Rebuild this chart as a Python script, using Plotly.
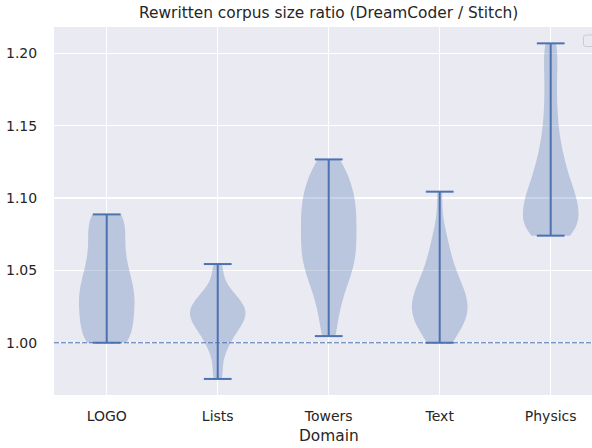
import plotly.graph_objects as go

# ---------------- data ----------------
domains = ["LOGO", "Lists", "Towers", "Text", "Physics"]

logo_vals = [1.000, 1.000, 1.000, 1.004, 1.008, 1.012, 1.0155, 1.019, 1.022, 1.025,
             1.028, 1.031, 1.034, 1.037, 1.040, 1.0435, 1.047, 1.051, 1.055, 1.060,
             1.065, 1.070, 1.075, 1.080, 1.085, 1.0887, 1.0887]
lists_vals = [0.975, 0.9814, 0.9894, 0.9946, 0.9982, 1.0013, 1.0038, 1.0060, 1.0079, 1.0098,
              1.0113, 1.0128, 1.0142, 1.0156, 1.0168, 1.0180, 1.0192, 1.0204, 1.0216, 1.0228,
              1.0239, 1.0251, 1.0265, 1.0279, 1.0293, 1.0309, 1.0328, 1.0346, 1.0375, 1.0412,
              1.0482, 1.0544]
towers_vals = [1.0046, 1.018, 1.028, 1.036, 1.042, 1.047, 1.052, 1.056, 1.060, 1.064,
               1.068, 1.072, 1.076, 1.080, 1.084, 1.088, 1.092, 1.096, 1.100, 1.104,
               1.109, 1.114, 1.119, 1.1267]
text_vals = [1.000, 1.003, 1.007, 1.010, 1.013, 1.015, 1.017, 1.019, 1.021, 1.023,
             1.025, 1.027, 1.029, 1.031, 1.033, 1.035, 1.038, 1.041, 1.044, 1.048,
             1.052, 1.057, 1.063, 1.070, 1.078, 1.1044]
physics_vals = [1.074, 1.075, 1.077, 1.080, 1.083, 1.086, 1.089, 1.092, 1.095, 1.098,
                1.101, 1.104, 1.108, 1.112, 1.117, 1.122, 1.128, 1.135, 1.144, 1.155,
                1.168, 1.182, 1.195, 1.2069]
series = [logo_vals, lists_vals, towers_vals, text_vals, physics_vals]
bandwidths = [0.011, 0.006, 0.010, 0.012, 0.010]

y_ticks = [1.00, 1.05, 1.10, 1.15, 1.20]
baseline = 1.0

# ---------------- style ----------------
C0 = "#4C72B0"
FILL = "rgba(76,114,176,0.3)"
BG = "#EAEAF2"
TXT = "#262626"
FONT = "DejaVu Sans"
W, H = 592, 448
L, R, T, B = 54, 0, 27, 53
violin_width = 0.5

fig = go.Figure()
positions = list(range(1, len(domains) + 1))
for pos, vals, bw in zip(positions, series, bandwidths):
    fig.add_trace(go.Violin(
        y=vals, x0=pos, orientation="v", width=violin_width,
        spanmode="hard", bandwidth=bw, scalemode="width",
        fillcolor=FILL, line=dict(width=0, color=FILL),
        points=False, box_visible=False, meanline_visible=False,
        showlegend=False, hoverinfo="skip",
    ))

# extrema caps and centre bars (matplotlib-style)
cx, cy = [], []
cap = violin_width / 4
for pos, vals in zip(positions, series):
    lo, hi = min(vals), max(vals)
    cx += [pos, pos, None, pos - cap, pos + cap, None, pos - cap, pos + cap, None]
    cy += [lo, hi, None, hi, hi, None, lo, lo, None]
fig.add_trace(go.Scatter(x=cx, y=cy, mode="lines", line=dict(color=C0, width=2),
                         showlegend=False, hoverinfo="skip"))

# dashed reference line
fig.add_shape(type="line", xref="paper", x0=0, x1=1, yref="y", y0=baseline, y1=baseline,
              line=dict(color=C0, width=1.2, dash="5px,2px"), layer="above")

# empty legend frame at the top-right corner (clipped by the figure edge)
def px_to_paper_x(px):
    return (px - L) / (W - L - R)

def px_to_paper_y(py):
    return (H - B - py) / (H - T - B)

x0, x1, y0, y1, r = 583.5, 600, 35, 46.5, 2.5
path = (f"M {px_to_paper_x(x0 + r)},{px_to_paper_y(y0)} "
        f"L {px_to_paper_x(x1 - r)},{px_to_paper_y(y0)} "
        f"Q {px_to_paper_x(x1)},{px_to_paper_y(y0)} {px_to_paper_x(x1)},{px_to_paper_y(y0 + r)} "
        f"L {px_to_paper_x(x1)},{px_to_paper_y(y1 - r)} "
        f"Q {px_to_paper_x(x1)},{px_to_paper_y(y1)} {px_to_paper_x(x1 - r)},{px_to_paper_y(y1)} "
        f"L {px_to_paper_x(x0 + r)},{px_to_paper_y(y1)} "
        f"Q {px_to_paper_x(x0)},{px_to_paper_y(y1)} {px_to_paper_x(x0)},{px_to_paper_y(y1 - r)} "
        f"L {px_to_paper_x(x0)},{px_to_paper_y(y0 + r)} "
        f"Q {px_to_paper_x(x0)},{px_to_paper_y(y0)} {px_to_paper_x(x0 + r)},{px_to_paper_y(y0)} Z")
fig.add_shape(type="path", xref="paper", yref="paper", path=path,
              line=dict(color="#CCCCCC", width=1), fillcolor="rgba(234,234,242,0.8)",
              layer="above")

x_centre_px = 328.7
fig.add_annotation(text="Domain", xref="paper", yref="paper",
                   x=px_to_paper_x(x_centre_px), y=px_to_paper_y(436),
                   xanchor="center", yanchor="middle", showarrow=False,
                   font=dict(family=FONT, size=15.4, color=TXT))

fig.update_layout(
    width=W, height=H,
    margin=dict(l=L, r=R, t=T, b=B, pad=0),
    paper_bgcolor="white", plot_bgcolor=BG,
    font=dict(family=FONT, size=14, color=TXT),
    title=dict(text="Rewritten corpus size ratio (DreamCoder / Stitch)",
               xref="container", yref="container",
               x=x_centre_px / W, xanchor="center",
               y=1 - 12.5 / H, yanchor="middle",
               font=dict(family=FONT, size=15.4, color=TXT)),
    violinmode="overlay",
    showlegend=False,
    hovermode=False,
)
fig.update_xaxes(range=[0.525, 5 + (W - R - 550.7) / 111.0],
                 tickvals=positions, ticktext=domains,
                 showgrid=True, gridcolor="white", gridwidth=1.3,
                 zeroline=False, showline=False,
                 ticks="outside", ticklen=8, tickcolor="rgba(0,0,0,0)",
                 tickfont=dict(family=FONT, size=14, color=TXT))
fig.update_yaxes(range=[0.9639, 1.2182],
                 tickvals=y_ticks, ticktext=[f"{v:.2f}" for v in y_ticks],
                 showgrid=True, gridcolor="white", gridwidth=1.3,
                 zeroline=False, showline=False,
                 ticks="outside", ticklen=13, tickcolor="rgba(0,0,0,0)",
                 tickfont=dict(family=FONT, size=14, color=TXT))

fig.write_html("out.html",
               config={"displayModeBar": False, "staticPlot": True},
               post_script="document.body.style.margin='0';document.body.style.padding='0';")
